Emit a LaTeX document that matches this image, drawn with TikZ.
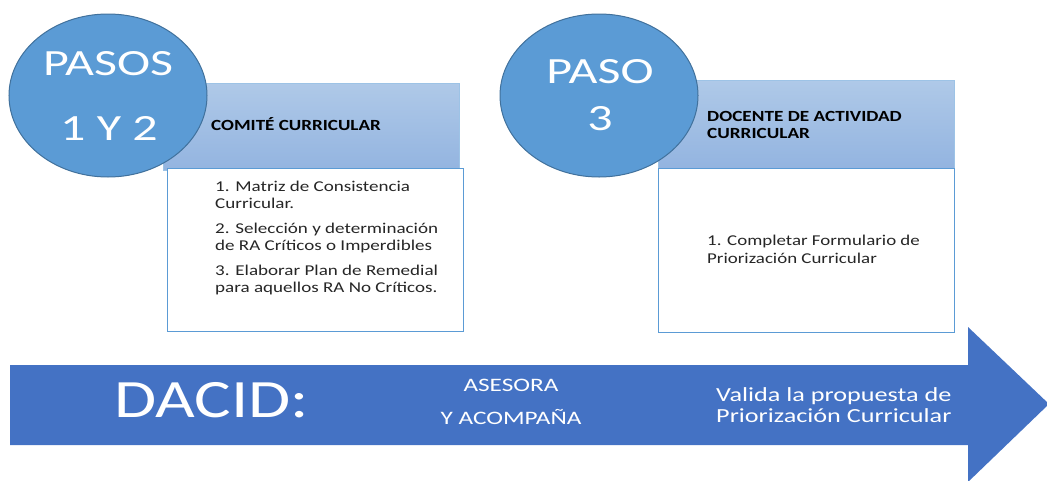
\documentclass[tikz,border=0pt]{standalone}
\usepackage{fontspec}
\setmainfont{Carlito}
\usetikzlibrary{shapes.geometric}
\definecolor{ellfill}{HTML}{5B9BD5}
\definecolor{elldraw}{HTML}{41719C}
\definecolor{hdtop}{HTML}{AFC9E8}
\definecolor{hdbot}{HTML}{93B4E0}
\definecolor{hdline}{HTML}{9DC3E6}
\definecolor{boxline}{HTML}{5B9BD5}
\definecolor{arrowblue}{HTML}{4472C4}
\definecolor{txt}{HTML}{262626}
\newcommand{\wide}[2]{\scalebox{#1}[1]{#2}}
\tikzset{
  stepell/.style={ellipse, fill=ellfill, draw=elldraw, line width=1pt, minimum width=198, minimum height=163, inner sep=0pt},
  ellText/.style={text=white, font=\fontsize{37}{44}\selectfont, anchor=base, inner sep=0pt},
  header/.style={top color=hdtop, bottom color=hdbot, draw=hdline, line width=1pt},
  content/.style={fill=white, draw=boxline, line width=1pt},
  hdtext/.style={font=\fontsize{15.5}{18}\bfseries\selectfont, text=black, anchor=base west, inner sep=0pt},
  bodytext/.style={font=\fontsize{15}{17}\selectfont, text=txt, anchor=base west, inner sep=0pt},
  arrowtext/.style={text=white, inner sep=0pt}
}
\begin{document}
\begin{tikzpicture}[x=1pt,y=-1pt]
\useasboundingbox (0,0) rectangle (1047,480);
% arrow
\fill[arrowblue] (10,365) -- (968,365) -- (968,327) -- (1049,404) -- (968,482) -- (968,445) -- (10,445) -- cycle;
\node[arrowtext, font=\fontsize{54}{60}\selectfont, anchor=base west] (dacid) at (114,417) {\wide{1.27}{DACID:}};
\node[arrowtext, font=\fontsize{19}{22}\selectfont, anchor=base] (ases) at (511,391) {\wide{1.33}{ASESORA}};
\node[arrowtext, font=\fontsize{19}{22}\selectfont, anchor=base] (acomp) at (511,424) {\wide{1.33}{Y ACOMPAÑA}};
\node[arrowtext, font=\fontsize{20}{24}\selectfont, anchor=base west] (valida) at (716,401) {\wide{1.31}{Valida la propuesta de}};
\node[arrowtext, font=\fontsize{20}{24}\selectfont, anchor=base west] (prior) at (716,422) {\wide{1.31}{Priorización Curricular}};
% group 1
\draw[header] (163,83) rectangle (459,170);
\draw[content] (167,168) rectangle (463,331);
\node[hdtext] (comite) at (211,130) {\wide{1.23}{COMITÉ CURRICULAR}};
\node[bodytext] (l1a) at (215,191) {\wide{1.27}{1. Matriz de Consistencia}};
\node[bodytext] (l1b) at (215,208.5) {\wide{1.27}{Curricular.}};
\node[bodytext] (l2a) at (215,233) {\wide{1.27}{2. Selección y determinación}};
\node[bodytext] (l2b) at (215,250.5) {\wide{1.27}{de RA Críticos o Imperdibles}};
\node[bodytext] (l3a) at (215,275) {\wide{1.27}{3. Elaborar Plan de Remedial}};
\node[bodytext] (l3b) at (215,292.5) {\wide{1.27}{para aquellos RA No Críticos.}};
\node[stepell] (e1) at (108,95.5) {};
\node[ellText] (p1a) at (108,75) {\wide{1.35}{PASOS}};
\node[ellText] (p1b) at (109,140) {\wide{1.35}{1 Y 2}};
% group 2
\draw[header] (658,80) rectangle (954,168);
\draw[content] (658,168) rectangle (954,332);
\node[hdtext] (doc1) at (707,121) {\wide{1.24}{DOCENTE DE ACTIVIDAD}};
\node[hdtext] (doc2) at (707,138.5) {\wide{1.24}{CURRICULAR}};
\node[bodytext] (m1a) at (707,245) {\wide{1.26}{1. Completar Formulario de}};
\node[bodytext] (m1b) at (707,263) {\wide{1.26}{Priorización Curricular}};
\node[stepell] (e2) at (599,95.5) {};
\node[ellText] (p2a) at (600,83) {\wide{1.35}{PASO}};
\node[ellText] (p2b) at (600,130) {\wide{1.35}{3}};
\end{tikzpicture}
\end{document}
